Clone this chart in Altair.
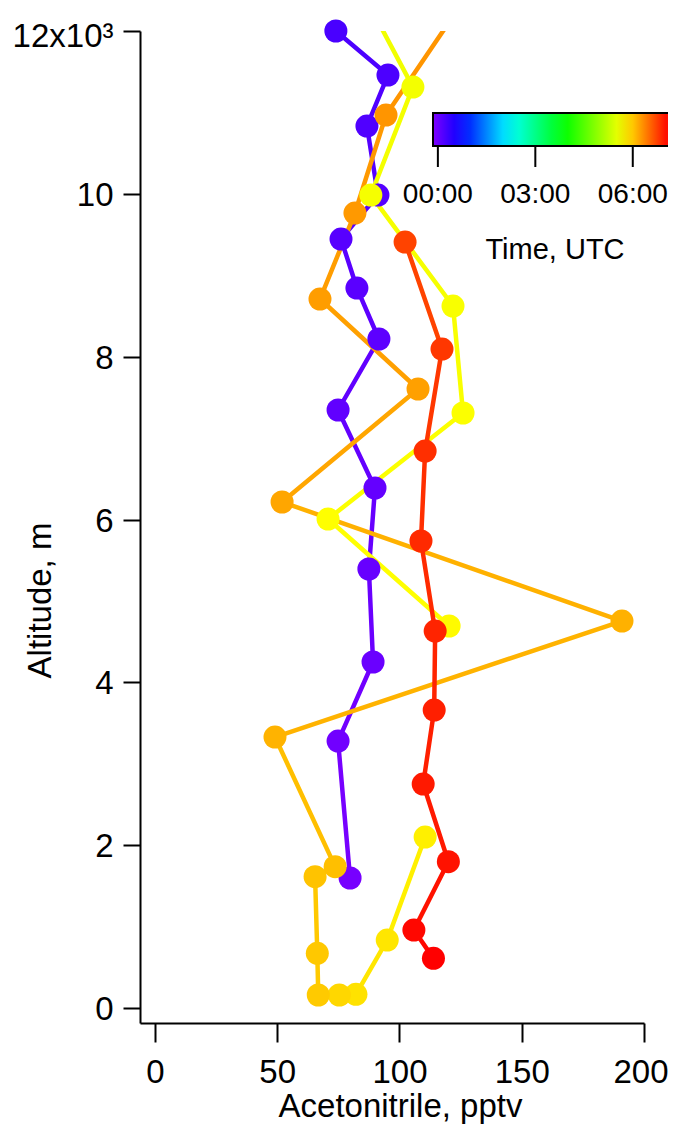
import altair as alt
import pandas as pd

FONT = "Liberation Sans"

# ---- profile data (in time order): acetonitrile (pptv), altitude (m), time (h UTC)
purple_acn = [79.8, 74.9, 89.2, 87.5, 90.0, 74.9, 91.6, 82.6, 76.1, 91.2, 86.7, 95.3, 74.0]
purple_alt = [1597, 3279, 4250, 5392, 6387, 7345, 8217, 8843, 9445, 9985, 10833, 11459, 12000]
purple_time = [-0.09, -0.05, 0.0, 0.02, 0.04, 0.06, 0.09, 0.11, 0.13, 0.15, 0.18, 0.21, 0.23]

yellow_acn = [82.7, 105.5, 88.3, 121.9, 126.0, 70.8, 120.3]
yellow_alt = [12600, 11311, 9985, 8622, 7308, 6006, 4692]
yellow_time = [5.6, 5.62, 5.64, 5.66, 5.68, 5.7, 5.72]

orange_acn = [110.5, 95.0, 82.2, 75.4, 66.8, 66.4, 65.5, 73.7, 49.1, 191.0, 52.0, 107.6, 67.5, 81.8, 94.5, 131.4]
orange_alt = [2100, 835, 168, 160, 160, 672, 1613, 1736, 3328, 4753, 6215, 7603, 8708, 9764, 10968, 12600]
orange_time = [5.78, 5.84, 5.86, 5.92, 5.99, 6.0, 6.03, 6.05, 6.12, 6.13, 6.19, 6.22, 6.24, 6.26, 6.28, 6.3]

red_acn = [102.3, 117.4, 110.5, 108.8, 114.6, 114.2, 109.7, 120.0, 105.9, 113.9]
red_alt = [9408, 8094, 6841, 5736, 4630, 3660, 2751, 1797, 958, 610]
red_time = [6.73, 6.8, 6.84, 6.87, 6.9, 6.93, 6.96, 7.0, 7.06, 7.1]

# colour table (time in hours -> colour)
stop_time = [-0.15, 0.73, 2.2, 3.9, 5.7, 7.1, 7.3]
stop_color = ["#8000ff", "#0000ff", "#00ffff", "#00ff00", "#ffff00", "#ff0000", "#ff0000"]

x_ticks = [0, 50, 100, 150, 200]
y_ticks = [0, 2000, 4000, 6000, 8000, 10000, 12000]
time_ticks = [0, 3, 6]

profiles = [
    ("a", purple_acn, purple_alt, purple_time),
    ("b", yellow_acn, yellow_alt, yellow_time),
    ("c", orange_acn, orange_alt, orange_time),
    ("d", red_acn, red_alt, red_time),
]

pts_rows, seg_rows = [], []
for name, xs, ys, ts in profiles:
    for i in range(len(xs)):
        pts_rows.append({"profile": name, "acn": xs[i], "alt": ys[i], "time": ts[i]})
        if i + 1 < len(xs):
            seg_rows.append({"profile": name, "acn": xs[i], "alt": ys[i],
                             "acn2": xs[i + 1], "alt2": ys[i + 1], "time": ts[i]})
pts = pd.DataFrame(pts_rows)
segs = pd.DataFrame(seg_rows)
ticks_df = pd.DataFrame({"t": time_ticks})

xscale = alt.Scale(domain=[-6.1, 200], nice=False, zero=False)
yscale = alt.Scale(domain=[-184, 12000], nice=False, zero=False)

# line colours (this scale drives the colour bar)
line_cscale = alt.Scale(domain=stop_time, range=stop_color, interpolate="rgb")
# marker fills: identical colours below 7.3 h; the end stop is moved a hair
# so that no second (merged) legend is produced for it
marker_stops = stop_time[:-1] + [stop_time[-1] + 0.01]
marker_cscale = alt.Scale(domain=marker_stops, range=stop_color, interpolate="rgb")

CB_X0 = 293      # colour bar left edge (relative to plot area)
CB_LEN = 242     # colour bar length

legend = alt.Legend(
    orient="none", legendX=CB_X0, legendY=82, direction="horizontal",
    gradientLength=CB_LEN, gradientThickness=33,
    gradientStrokeColor="black", gradientStrokeWidth=2,
    values=time_ticks,
    labelExpr="(datum.value < 10 ? '0' : '') + datum.value + ':00'",
    labelFont=FONT, labelFontSize=28, labelColor="black", labelOffset=35,
    labelOverlap=False,
    title="Time, UTC", titleFont=FONT, titleFontSize=29, titleFontWeight="normal",
    titleColor="black", titleOrient="bottom", titleAnchor="middle", titlePadding=27,
    padding=0,
)

xaxis = alt.Axis(
    values=x_ticks, grid=False, domainColor="black", domainWidth=2,
    tickColor="black", tickWidth=2, tickSize=19,
    labelFont=FONT, labelFontSize=33, labelColor="black", labelPadding=14,
    labelOffset={"condition": {"test": "datum.value == 200", "value": -3.5}, "value": 0},
    labelFlush=False, labelOverlap=False, labelBound=False,
    title="Acetonitrile, pptv", titleFont=FONT, titleFontSize=33,
    titleFontWeight="normal", titleColor="black",
    titleX=260, titleY=93, titleBaseline="alphabetic", titleAlign="center",
)
yaxis = alt.Axis(
    values=y_ticks, grid=False, domainColor="black", domainWidth=2,
    tickColor="black", tickWidth=2, tickSize=17,
    labelFont=FONT, labelFontSize=33, labelColor="black", labelPadding=10,
    labelBaseline="alphabetic",
    labelOffset={"condition": {"test": "datum.value == 12000", "value": 15}, "value": 11.5},
    labelExpr="datum.value == 12000 ? '12x10\u00b3' : format(datum.value / 1000, 'd')",
    labelFlush=False, labelOverlap=False, labelBound=False,
    title="Altitude, m", titleFont=FONT, titleFontSize=33,
    titleFontWeight="normal", titleColor="black",
    titleX=-90, titleY=569, titleAngle=-90, titleBaseline="alphabetic", titleAlign="center",
)

lines = alt.Chart(segs).mark_rule(strokeWidth=4.5, clip=True, strokeCap="round").encode(
    x=alt.X("acn:Q", scale=xscale, axis=xaxis),
    y=alt.Y("alt:Q", scale=yscale, axis=yaxis),
    x2="acn2:Q",
    y2="alt2:Q",
    color=alt.Color("time:Q", scale=line_cscale, legend=legend),
)

points = alt.Chart(pts).transform_filter("datum.alt <= 12000").mark_circle(
    size=530, opacity=1, fillOpacity=1, strokeWidth=0
).encode(
    x=alt.X("acn:Q", scale=xscale, axis=xaxis),
    y=alt.Y("alt:Q", scale=yscale, axis=yaxis),
    fill=alt.Fill("time:Q", scale=marker_cscale, legend=None),
)

cbar_ticks = alt.Chart(ticks_df).mark_rule(color="black", strokeWidth=2).encode(
    x=alt.X("t:Q", scale=alt.Scale(domain=[-0.15, 7.3], range=[CB_X0, CB_X0 + CB_LEN],
                                   nice=False, zero=False), axis=None),
    y=alt.value(116),
    y2=alt.value(136),
)

chart = alt.layer(alt.layer(lines, points), cbar_ticks).resolve_scale(x="independent").properties(
    width=504, height=992,
    autosize=alt.AutoSizeParams(type="none"),
    padding={"left": 132, "top": 23, "right": 24, "bottom": 101},
    background="white",
).configure_view(stroke=None)

chart.save("out.html", embed_options={"renderer": "svg", "actions": False})
